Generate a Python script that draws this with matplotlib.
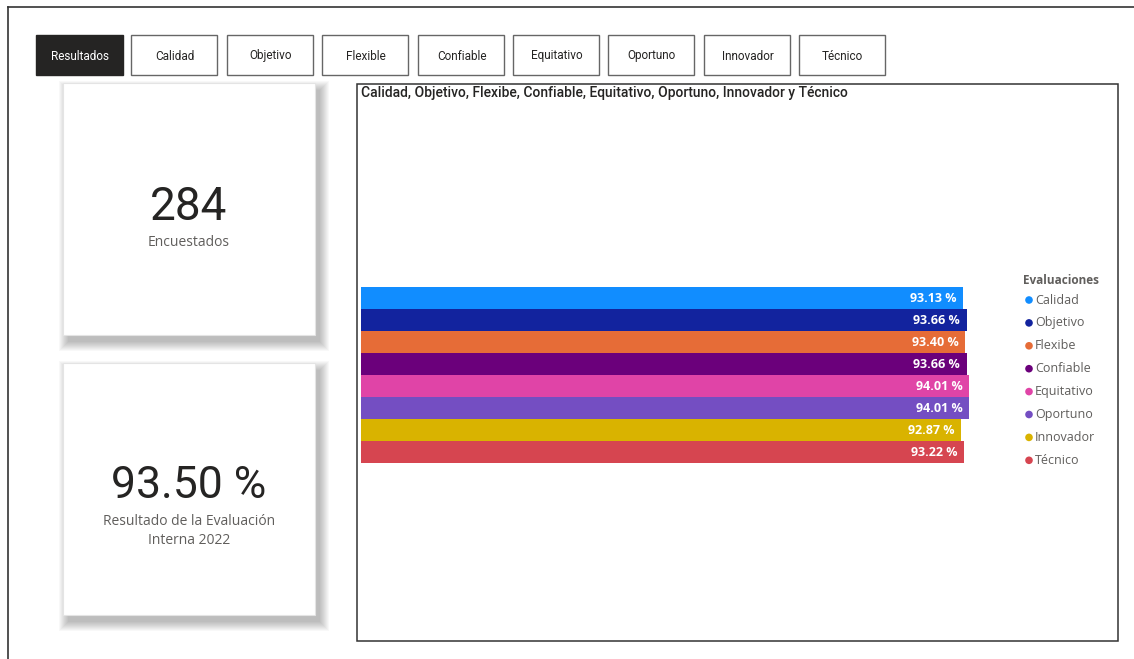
import matplotlib
matplotlib.use("Agg")
import matplotlib.pyplot as plt
from matplotlib.patches import Rectangle, Circle

categories = ["Calidad", "Objetivo", "Flexibe", "Confiable", "Equitativo", "Oportuno", "Innovador", "Técnico"]
values = [93.13, 93.66, 93.40, 93.66, 94.01, 94.01, 92.87, 93.22]
colors = ["#118DFF", "#12239E", "#E66C37", "#6B007B", "#E044A7", "#744EC2", "#D9B300", "#D64550"]
buttons = ["Resultados", "Calidad", "Objetivo", "Flexible", "Confiable", "Equitativo", "Oportuno", "Innovador", "Técnico"]
title = "Calidad, Objetivo, Flexibe, Confiable, Equitativo, Oportuno, Innovador y Técnico"
kpi1_value, kpi1_label = "284", "Encuestados"
kpi2_value, kpi2_label = "93.50 %", "Resultado de la Evaluación\nInterna 2022"
legend_title = "Evaluaciones"

W, H = 1134, 659
fig = plt.figure(figsize=(W / 100, H / 100), dpi=100)
fig.patch.set_facecolor("white")

bg = fig.add_axes([0, 0, 1, 1])
bg.set_xlim(0, W)
bg.set_ylim(H, 0)
bg.axis("off")

# outer frame lines
bg.plot([8, 8], [7, H], color="#333333", lw=1.2)
bg.plot([8, W], [7, 7], color="#333333", lw=1.2)

# buttons
btn_x = [36, 131, 227, 322, 418, 513, 608, 704, 799]
for i, (b, x0) in enumerate(zip(buttons, btn_x)):
    if i == 0:
        bg.add_patch(Rectangle((x0, 35), 87, 40, facecolor="#252423", edgecolor="#252423", lw=1))
        c = "white"
    else:
        bg.add_patch(Rectangle((x0, 35), 86, 40, facecolor="white", edgecolor="#666666", lw=1))
        c = "#252423"
    bg.text(x0 + 43.5, 56, b, ha="center", va="center", fontsize=8.5, color=c, family="Roboto")

# cards with soft shadow (right/bottom)
def card(y0):
    for k in range(9, -1, -1):
        bg.add_patch(Rectangle((63 + 5 - k, y0 + 7 - k), 252 + 2 * k, 252 + 2 * k,
                               facecolor="black", alpha=0.028, edgecolor="none"))
    bg.add_patch(Rectangle((63, y0), 252, 252, facecolor="white", edgecolor="#e4e4e4", lw=0.8))

card(83)
card(363)
bg.text(189, 207, kpi1_value, ha="center", va="center", fontsize=33, color="#252423", family="Roboto")
bg.text(189, 242, kpi1_label, ha="center", va="center", fontsize=10, color="#605E5C", family="Open Sans")
bg.text(189, 486, kpi2_value, ha="center", va="center", fontsize=32, color="#252423", family="Roboto")
bg.text(189, 531, kpi2_label, ha="center", va="center", fontsize=10, color="#605E5C", family="Open Sans",
        linespacing=1.3)

# chart box
bg.add_patch(Rectangle((357, 84), 761, 557, facecolor="white", edgecolor="#333333", lw=1.1))
bg.text(361, 93, title, ha="left", va="center", fontsize=10, color="#252423", family="Roboto",
        fontweight="medium")

# bar axes
x_left, px_per_unit = 361, 6.465
ax_w = 100 * px_per_unit
ax = fig.add_axes([x_left / W, (H - 463) / H, ax_w / W, (463 - 287) / H])
ax.set_xlim(0, 100)
ypos = list(range(len(categories)))
ax.barh(ypos, values, height=1.0, color=colors, edgecolor="none")
ax.set_ylim(len(categories) - 0.5, -0.5)
for y, v in zip(ypos, values):
    ax.text(v - 1.0, y, f"{v:.2f} %", ha="right", va="center", fontsize=9, color="white",
            fontweight="bold", family="Open Sans")
ax.axis("off")

# legend
bg.text(1023, 281, legend_title, ha="left", va="center", fontsize=8.5, fontweight="bold",
        color="#605E5C", family="Open Sans")
for i, (cat, col) in enumerate(zip(categories, colors)):
    yy = 300 + i * 22.9
    bg.add_patch(Circle((1029, yy), 3.8, facecolor=col, edgecolor="none"))
    bg.text(1035, yy, cat, ha="left", va="center", fontsize=9, color="#605E5C", family="Open Sans")

fig.savefig("out.png", dpi=100, facecolor="white")
